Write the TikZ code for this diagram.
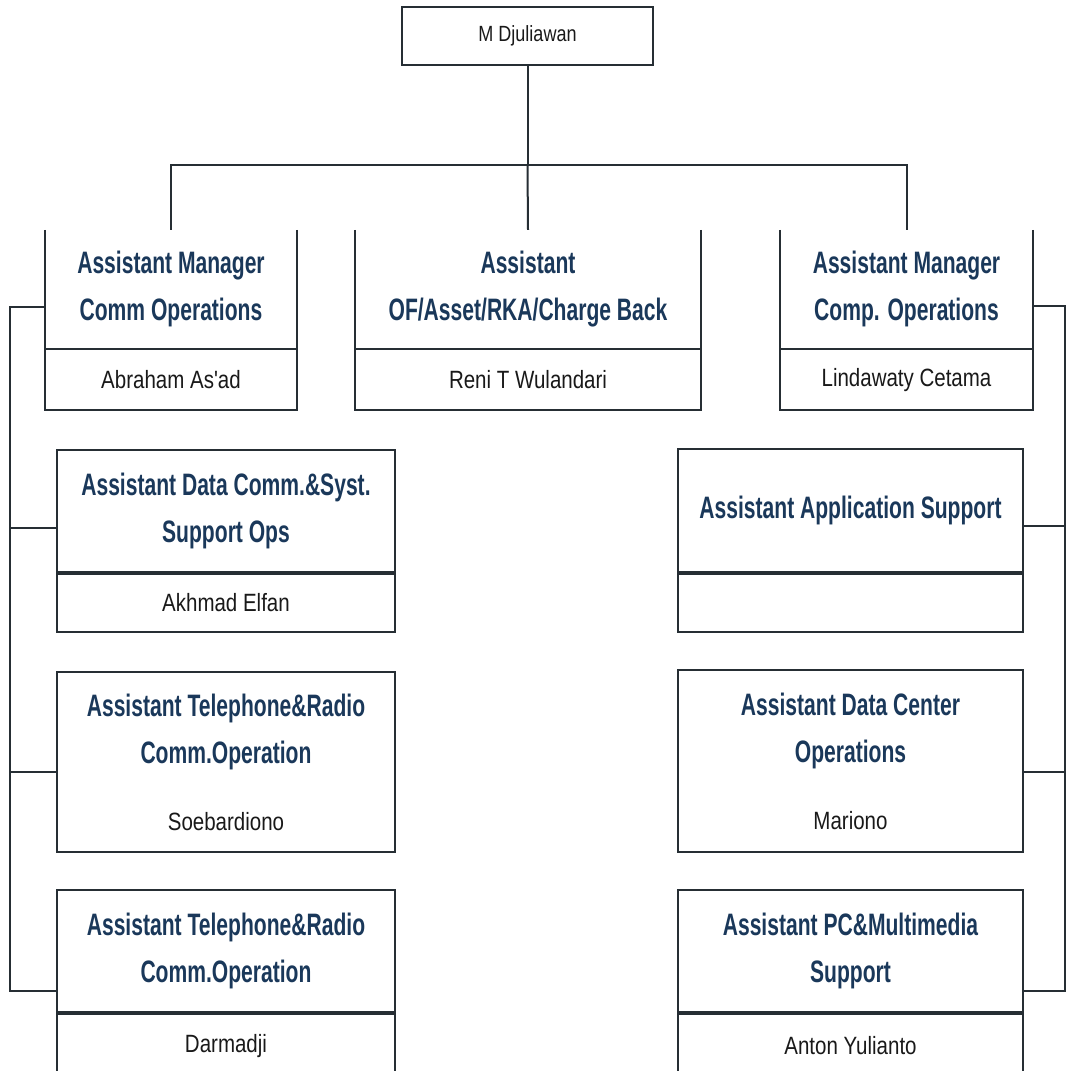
\documentclass[tikz,border=0pt]{standalone}
\usepackage{fontspec}
\newfontfamily\ttlfont{Liberation Sans}[FakeStretch=0.68]
\newfontfamily\namefont{Liberation Sans}[FakeStretch=0.82]
\usetikzlibrary{calc}
\definecolor{ttlcol}{RGB}{26,56,90}
\definecolor{linecol}{RGB}{38,46,52}

\tikzset{
  box/.style={draw=linecol, line width=2pt, inner sep=0pt},
  edge/.style={draw=linecol, line width=2pt},
  ttl/.style={text=ttlcol, align=center, font=\ttlfont\bfseries\fontsize{31}{47}\selectfont},
  nm/.style={text=black!90, align=center, font=\namefont\fontsize{25}{30}\selectfont},
}

\begin{document}
\begin{tikzpicture}[x=1pt, y=-1pt]
\useasboundingbox (0,0) rectangle (1068,1071);
\clip (0,0) rectangle (1068,1071);

% head
\node[box, nm, font=\namefont\fontsize{22}{26}\selectfont, minimum width=251pt, minimum height=58pt] (MD) at (527.5,36) {M Djuliawan};

% first row, open at the top
\node[ttl, minimum width=252pt, minimum height=118pt, inner sep=0pt] (tA) at (171,289) {Assistant Manager\\Comm Operations};
\node[box, nm, minimum width=252pt, minimum height=61pt, anchor=north] (nA) at (tA.south) {Abraham As'ad};
\node[ttl, minimum width=346pt, minimum height=118pt, inner sep=0pt] (tB) at (528,289) {Assistant\\OF/Asset/RKA/Charge Back};
\node[box, nm, minimum width=346pt, minimum height=61pt, anchor=north] (nB) at (tB.south) {Reni T Wulandari};
\node[ttl, minimum width=253pt, minimum height=118pt, inner sep=0pt] (tC) at (906.5,289) {Assistant Manager\\Comp. Operations};
\node[box, nm, minimum width=253pt, minimum height=61pt, anchor=north] (nC) at (tC.south) {Lindawaty Cetama};
\foreach \n in {tA,tB,tC} {
  \draw[edge] (\n.north west) -- (\n.south west) (\n.north east) -- (\n.south east);
}

% left column
\node[box, ttl, minimum width=338pt, minimum height=122pt] (L1t) at (226,511) {Assistant Data Comm.\&Syst.\\Support Ops};
\node[box, nm, minimum width=338pt, minimum height=58pt, anchor=north] (L1n) at (L1t.south) {Akhmad Elfan};
\node[box, ttl, minimum width=338pt, minimum height=180pt] (L2) at (226,762)
  {Assistant Telephone\&Radio\\Comm.Operation\\[20pt]{\namefont\mdseries\fontsize{25}{30}\selectfont\color{black!90}Soebardiono}};
\node[box, ttl, minimum width=338pt, minimum height=122pt] (L3t) at (226,951) {Assistant Telephone\&Radio\\Comm.Operation};
\node[box, nm, minimum width=338pt, minimum height=64pt, anchor=north] (L3n) at (L3t.south) {Darmadji};

% right column
\node[box, ttl, minimum width=345pt, minimum height=123pt] (R1t) at (850.5,510) {Assistant Application Support};
\node[box, nm, minimum width=345pt, minimum height=58pt, anchor=north] (R1n) at (R1t.south) {};
\node[box, ttl, minimum width=345pt, minimum height=182pt] (R2) at (850.5,761)
  {Assistant Data Center\\Operations\\[20pt]{\namefont\mdseries\fontsize{25}{30}\selectfont\color{black!90}Mariono}};
\node[box, ttl, minimum width=345pt, minimum height=122pt] (R3t) at (850.5,951) {Assistant PC\&Multimedia\\Support};
\node[box, nm, minimum width=345pt, minimum height=64pt, anchor=north] (R3n) at (R3t.south) {Anton Yulianto};

% connectors
\coordinate (bar) at (527.5,165);
\draw[edge] (MD.south) -- (bar);
\draw[edge] (tA.north) |- (bar) -| (tC.north);
\draw[edge] (bar) -- (tB.north);

\draw[edge] ($(tA.west)+(0,18)$) -- ++(-35,0) |- ($(L3t.west)+(0,40)$);
\draw[edge] ($(L1t.west)+(0,17)$) -- ++(-47,0);
\draw[edge] ($(L2.west)+(0,10)$) -- ++(-47,0);

\draw[edge] ($(tC.east)+(0,17)$) -- ++(32,0) |- ($(R3t.east)+(0,40)$);
\draw[edge] ($(R1t.east)+(0,16)$) -- ++(42,0);
\draw[edge] ($(R2.east)+(0,11)$) -- ++(42,0);
\end{tikzpicture}
\end{document}
